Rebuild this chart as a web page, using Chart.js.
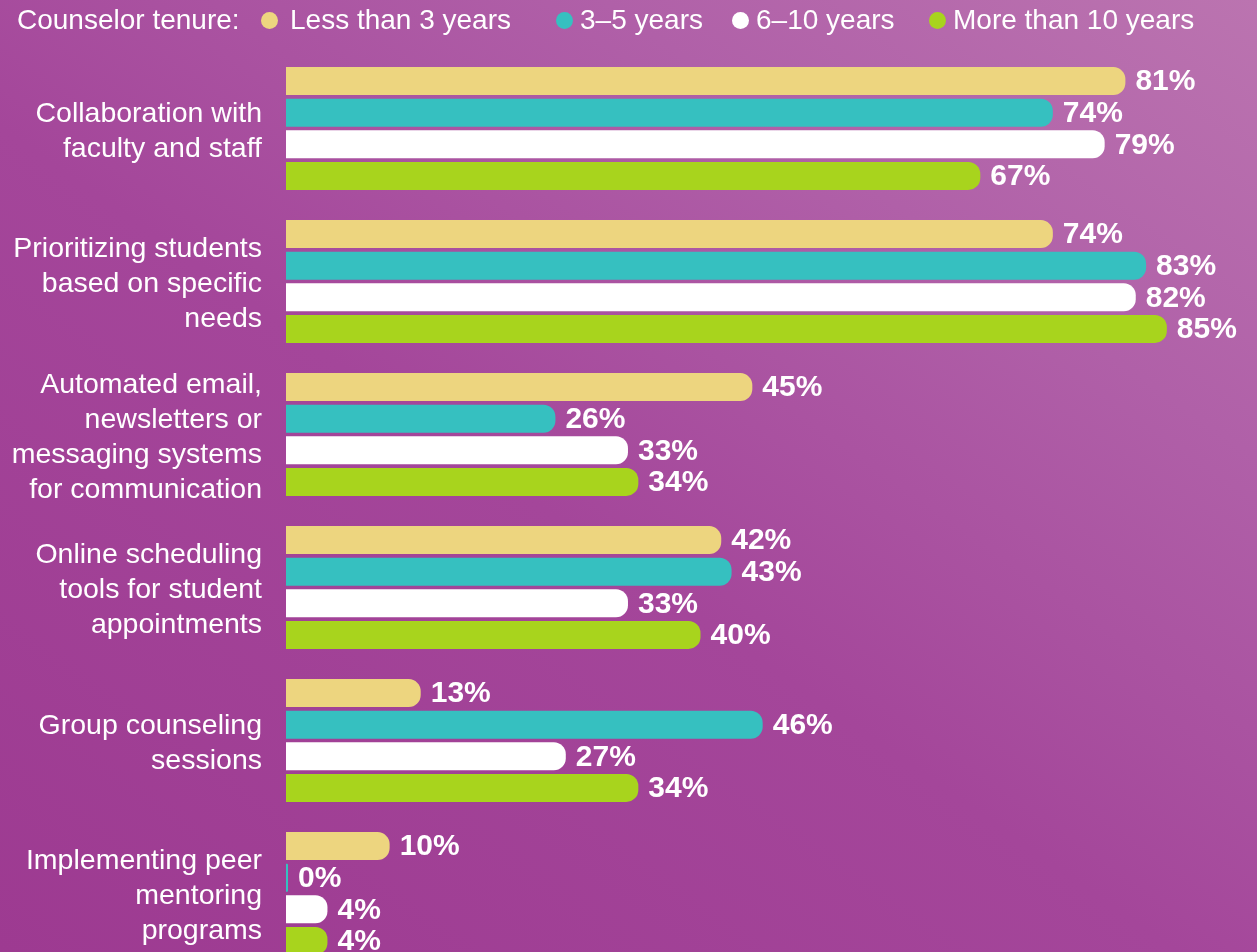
<!DOCTYPE html>
<html>
<head>
<meta charset="utf-8">
<script src="https://cdn.jsdelivr.net/npm/chart.js@4"></script>
<style>
    html, body { margin: 0; padding: 0; width: 1257px; height: 952px; overflow: hidden; }
    body {
        background: linear-gradient(35deg, #9d3a91 0%, #a4469a 45%, #b060a8 75%, #bb74b0 100%);
        font-family: "Liberation Sans", Arial, sans-serif;
        position: relative;
    }
    #legend { position: absolute; left: 0; top: 0; width: 1257px; height: 42px; color: #fff; font-size: 28px; }
    #legend span { position: absolute; top: 4px; white-space: nowrap; }
    #legend i { position: absolute; top: 12px; width: 17px; height: 17px; border-radius: 50%; }
    #wrap { position: absolute; left: 0; top: 0; width: 1257px; height: 980px; }
</style>
</head>
<body>
<div id="wrap"><canvas id="chart"></canvas></div>
<div id="legend"></div>
<script>
const categories = [
    ['Collaboration with', 'faculty and staff'],
    ['Prioritizing students', 'based on specific', 'needs'],
    ['Automated email,', 'newsletters or', 'messaging systems', 'for communication'],
    ['Online scheduling', 'tools for student', 'appointments'],
    ['Group counseling', 'sessions'],
    ['Implementing peer', 'mentoring', 'programs']
];
const seriesNames = ['Less than 3 years', '3–5 years', '6–10 years', 'More than 10 years'];
const seriesColors = ['#edd57f', '#36c0c0', '#ffffff', '#a8d41d'];
const lessThan3 = [81, 74, 45, 42, 13, 10];
const years3to5 = [74, 83, 26, 43, 46, 0];
const years6to10 = [79, 82, 33, 33, 27, 4];
const moreThan10 = [67, 85, 34, 40, 34, 4];
const seriesValues = [lessThan3, years3to5, years6to10, moreThan10];

// legend (html text)
const legendPos = [[261, 290], [556, 580], [732, 756], [929, 953]];
const legend = document.getElementById('legend');
legend.innerHTML = '<span style="left:17px">Counselor tenure:</span>' +
    seriesNames.map((n, i) =>
        `<i style="left:${legendPos[i][0]}px;background:${seriesColors[i]}"></i>` +
        `<span style="left:${legendPos[i][1]}px">${n}</span>`).join('');

const valueLabels = {
    id: 'valueLabels',
    afterDatasetsDraw(chart) {
        const ctx = chart.ctx;
        ctx.save();
        ctx.fillStyle = '#fff';
        ctx.font = 'bold 30px "Liberation Sans", Arial, sans-serif';
        ctx.textBaseline = 'middle';
        ctx.textAlign = 'left';
        chart.data.datasets.forEach((ds, i) => {
            chart.getDatasetMeta(i).data.forEach((bar, j) => {
                ctx.fillText(ds.data[j] + '%', bar.x + 10, bar.y + 1);
            });
        });
        ctx.restore();
    }
};

new Chart(document.getElementById('chart'), {
    type: 'bar',
    data: {
        labels: categories,
        datasets: seriesNames.map((n, i) => ({
            label: n,
            data: seriesValues[i],
            backgroundColor: seriesColors[i],
            borderRadius: 12,
            borderSkipped: 'start',
            minBarLength: 2,
            categoryPercentage: 0.826,
            barPercentage: 0.886
        }))
    },
    options: {
        indexAxis: 'y',
        responsive: true,
        maintainAspectRatio: false,
        animation: false,
        layout: { padding: { top: 52, bottom: 10, left: 0, right: 0 } },
        plugins: {
            legend: { display: false },
            tooltip: { enabled: false }
        },
        scales: {
            x: { display: false, min: 0, max: 93.7 },
            y: {
                grid: { display: false, drawTicks: false },
                border: { display: false },
                afterFit: scale => {
                    scale.width = 286;
                    scale.paddingTop = 0;
                    scale.paddingBottom = 0;
                },
                ticks: {
                    color: '#fff',
                    padding: 24,
                    labelOffset: 3,
                    font: { family: '"Liberation Sans", Arial, sans-serif', size: 28.5, lineHeight: 1.23 }
                }
            }
        }
    },
    plugins: [valueLabels]
});
</script>
</body>
</html>
